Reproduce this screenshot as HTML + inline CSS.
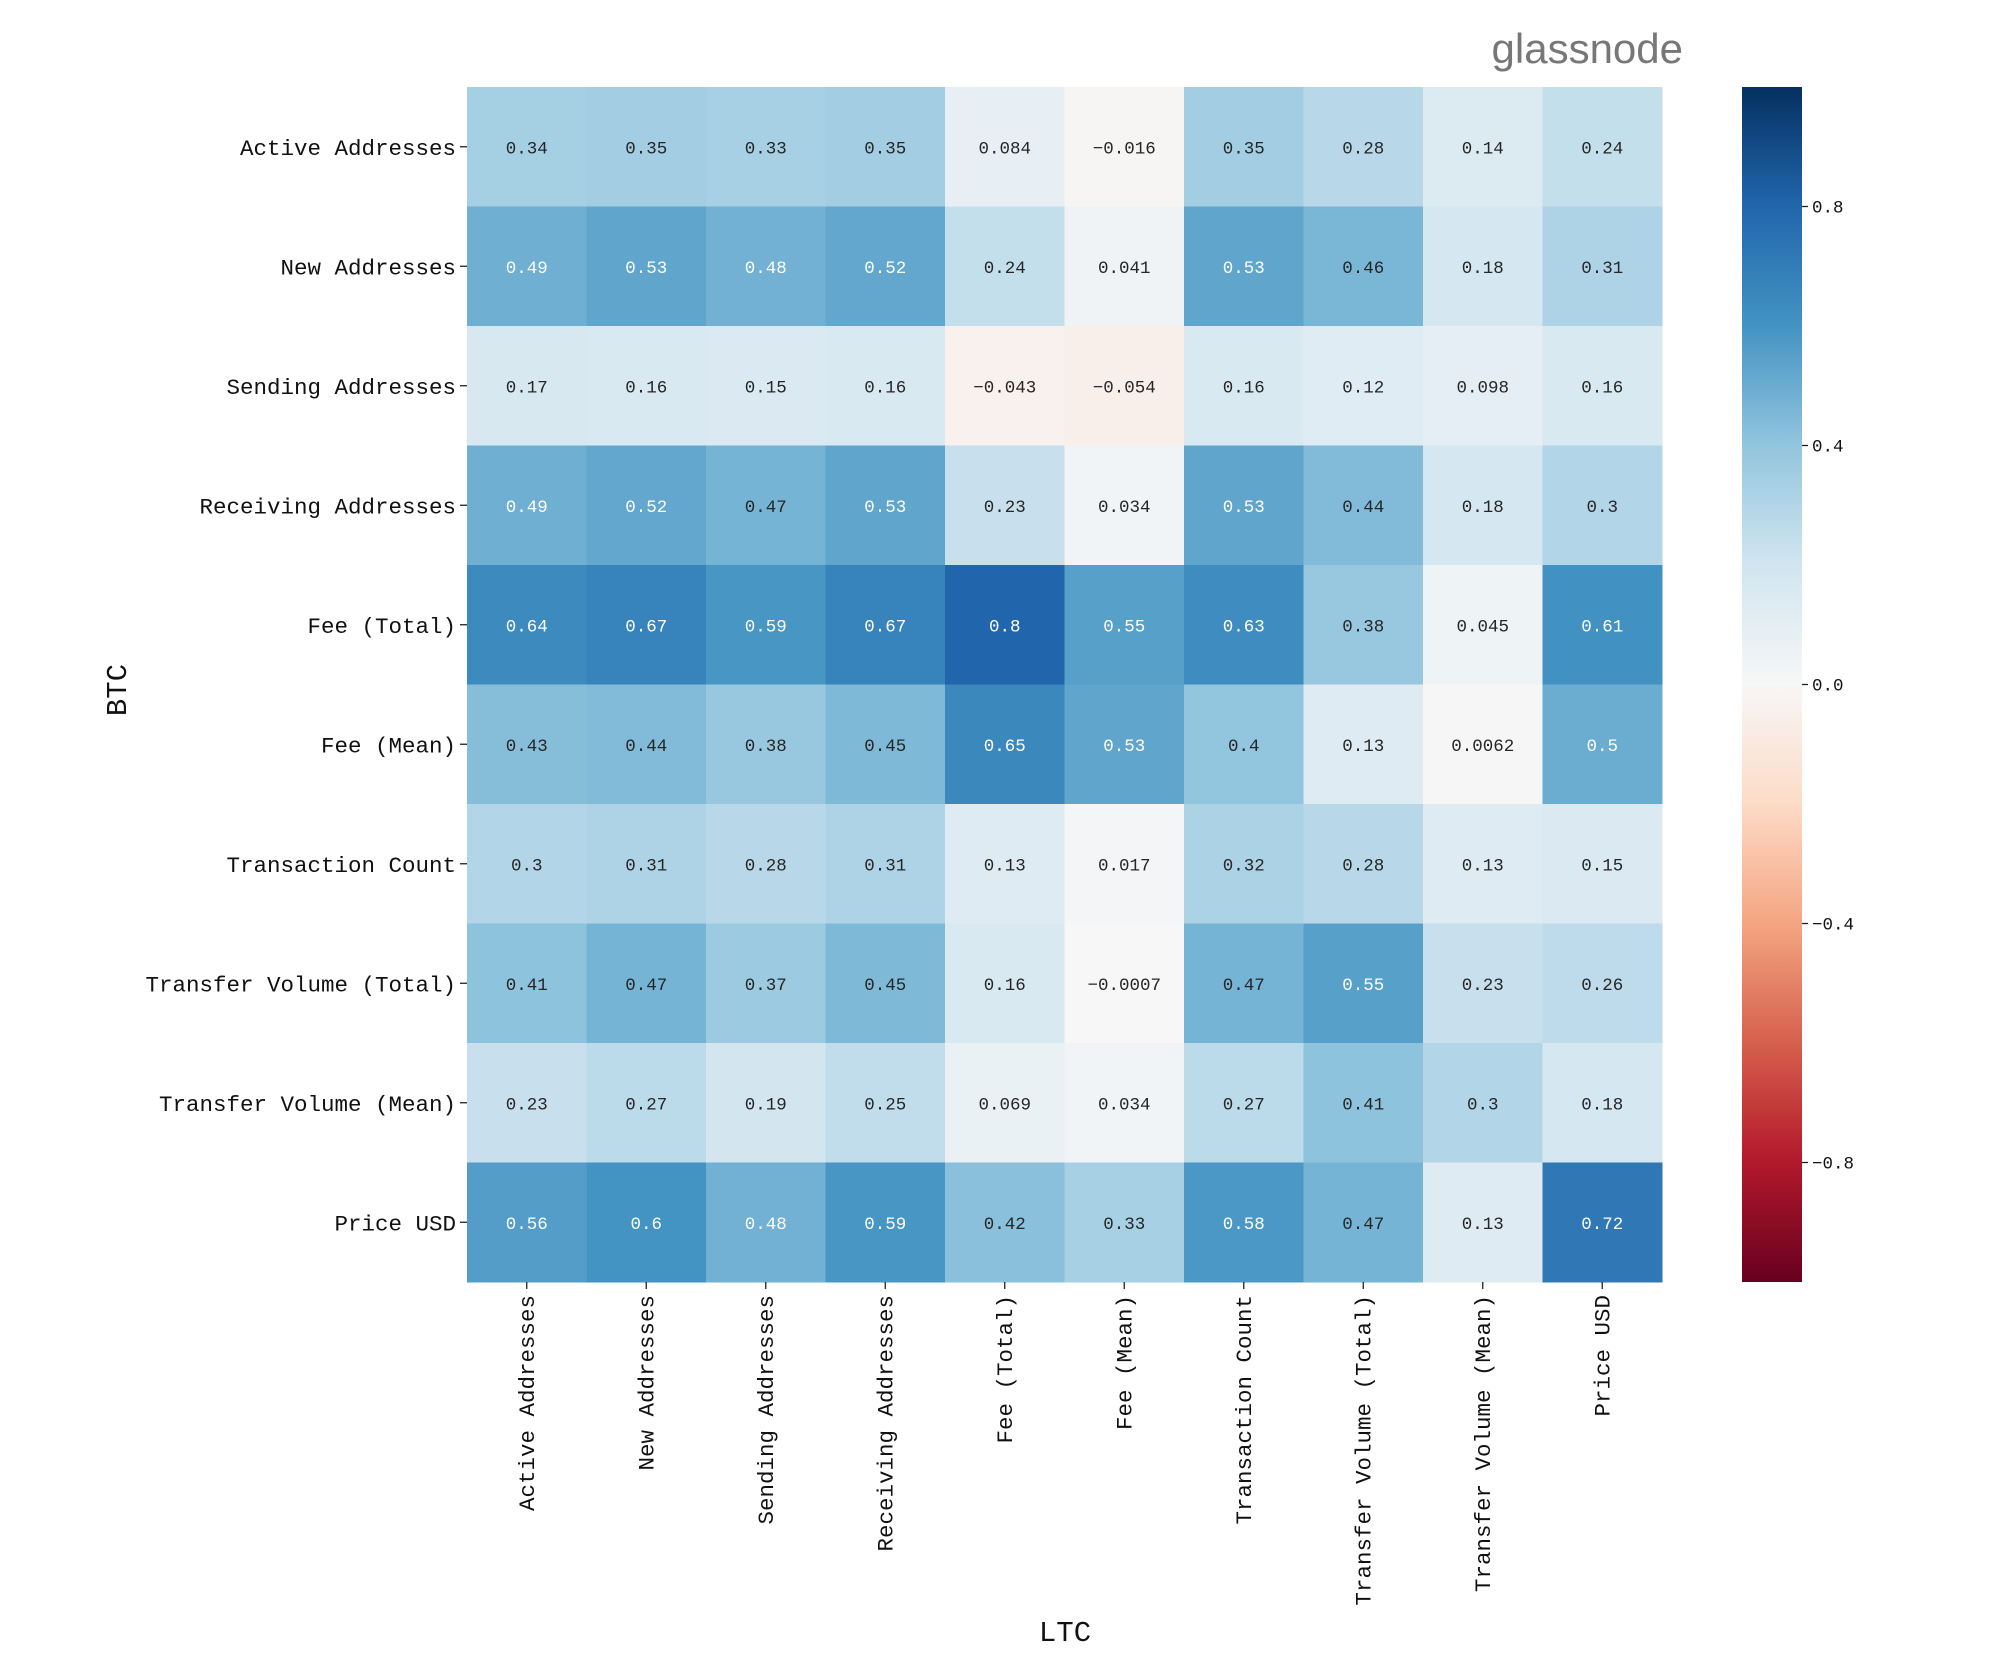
<!DOCTYPE html>
<html><head><meta charset="utf-8"><style>
body{margin:0;background:#fff;}
svg{display:block;font-family:"Liberation Mono",monospace;}
</style></head><body>
<svg id="chart" width="2000" height="1667" viewBox="0 0 2000 1667">
<defs><linearGradient id="cbgrad" x1="0" y1="1" x2="0" y2="0"></linearGradient></defs>
<text x="1683" y="63" text-anchor="end" font-family="Liberation Sans, sans-serif" font-size="42" fill="#777">glassnode</text>
<g id="cells"></g><g id="ylabels"></g><g id="xlabels"></g><g id="cbar"></g>
<text x="1065" y="1641" text-anchor="middle" font-size="29" fill="#111">LTC</text>
<text transform="translate(126,690) rotate(-90)" text-anchor="middle" font-size="29" fill="#111">BTC</text>
</svg>
<script>
const rowLabels=["Active Addresses","New Addresses","Sending Addresses","Receiving Addresses","Fee (Total)","Fee (Mean)","Transaction Count","Transfer Volume (Total)","Transfer Volume (Mean)","Price USD"];
const colLabels=["Active Addresses","New Addresses","Sending Addresses","Receiving Addresses","Fee (Total)","Fee (Mean)","Transaction Count","Transfer Volume (Total)","Transfer Volume (Mean)","Price USD"];
const row1=[0.34,0.35,0.33,0.35,0.084,-0.016,0.35,0.28,0.14,0.24];
const row2=[0.49,0.53,0.48,0.52,0.24,0.041,0.53,0.46,0.18,0.31];
const row3=[0.17,0.16,0.15,0.16,-0.043,-0.054,0.16,0.12,0.098,0.16];
const row4=[0.49,0.52,0.47,0.53,0.23,0.034,0.53,0.44,0.18,0.3];
const row5=[0.64,0.67,0.59,0.67,0.8,0.55,0.63,0.38,0.045,0.61];
const row6=[0.43,0.44,0.38,0.45,0.65,0.53,0.4,0.13,0.0062,0.5];
const row7=[0.3,0.31,0.28,0.31,0.13,0.017,0.32,0.28,0.13,0.15];
const row8=[0.41,0.47,0.37,0.45,0.16,-0.0007,0.47,0.55,0.23,0.26];
const row9=[0.23,0.27,0.19,0.25,0.069,0.034,0.27,0.41,0.3,0.18];
const row10=[0.56,0.6,0.48,0.59,0.42,0.33,0.58,0.47,0.13,0.72];
const matrix=[row1,row2,row3,row4,row5,row6,row7,row8,row9,row10];
const cbTicks=[0.8,0.4,0.0,-0.4,-0.8];
const cbTickLabels=["0.8","0.4","0.0","−0.4","−0.8"];

const NS="http://www.w3.org/2000/svg";
const L=467,T=87,R=1662,B=1282;
const cw=(R-L)/colLabels.length, ch=(B-T)/rowLabels.length;
const xPos=i=>L+i*cw, yPos=j=>T+j*ch;
const cbX=1742,cbW=60;
const cbY=v=>T+(1-v)/2*(B-T);
const stops=["#67001f","#b2182b","#d6604d","#f4a582","#fddbc7","#f7f7f7","#d1e5f0","#92c5de","#4393c3","#2166ac","#053061"];
function hex(h){return [1,3,5].map(i=>parseInt(h.substr(i,2),16));}
function cmap(v){const t=Math.max(0,Math.min(1,(v+1)/2))*(stops.length-1);const i=Math.min(Math.floor(t),stops.length-2);const f=t-i;const a=hex(stops[i]),b=hex(stops[i+1]);return a.map((c,k)=>Math.round(c+(b[k]-c)*f));}
function lum(rgb){const c=rgb.map(x=>{x/=255;return x<=0.03928?x/12.92:Math.pow((x+0.055)/1.055,2.4);});return 0.2126*c[0]+0.7152*c[1]+0.0722*c[2];}
function mk(tag,attrs,parent){const e=document.createElementNS(NS,tag);for(const k in attrs)e.setAttribute(k,attrs[k]);parent.appendChild(e);return e;}
const cells=document.getElementById('cells');
matrix.forEach((row,j)=>row.forEach((v,i)=>{
  const rgb=cmap(v);
  const r=mk('rect',{x:xPos(i),y:yPos(j),width:cw+0.5,height:ch+0.5,fill:`rgb(${rgb})`},cells);
  
  
  const t=mk('text',{x:xPos(i)+cw/2,y:yPos(j)+ch/2+6.5,'text-anchor':'middle','font-size':17.5,fill:lum(rgb)>0.408?'#262626':'#fff'},cells);
  t.textContent=String(v).replace('-','−');
  
  
}));
const yl=document.getElementById('ylabels');
rowLabels.forEach((s,j)=>{
  const y=yPos(j)+ch/2;
  mk('line',{x1:L-7,x2:L,y1:y,y2:y,stroke:'#222','stroke-width':1.3},yl);
  const t=mk('text',{x:L-11,y:y+8,'text-anchor':'end','font-size':22.5,fill:'#111'},yl);
  t.textContent=s;
  
  
});
const xl=document.getElementById('xlabels');
colLabels.forEach((s,i)=>{
  const x=xPos(i)+cw/2;
  mk('line',{x1:x,x2:x,y1:B,y2:B+7,stroke:'#222','stroke-width':1.3},xl);
  const t=mk('text',{transform:`translate(${x+7},${B+13}) rotate(-90)`,'text-anchor':'end','font-size':22.5,fill:'#111'},xl);
  t.textContent=s;
  
  
});
const grad=document.getElementById('cbgrad');
stops.forEach((c,k)=>mk('stop',{offset:k/(stops.length-1),'stop-color':c},grad));
const cb=document.getElementById('cbar');
const cbr=mk('rect',{x:cbX,y:cbY(1),width:cbW,height:cbY(-1)-cbY(1),fill:'url(#cbgrad)'},cb);


cbTicks.forEach((v,k)=>{
  const y=cbY(v);
  mk('line',{x1:cbX+cbW,x2:cbX+cbW+6,y1:y,y2:y,stroke:'#222','stroke-width':1.3},cb);
  const t=mk('text',{x:cbX+cbW+10,y:y+6,'font-size':17.5,fill:'#111'},cb);
  t.textContent=cbTickLabels[k];
  
  
});
</script>
</body></html>
